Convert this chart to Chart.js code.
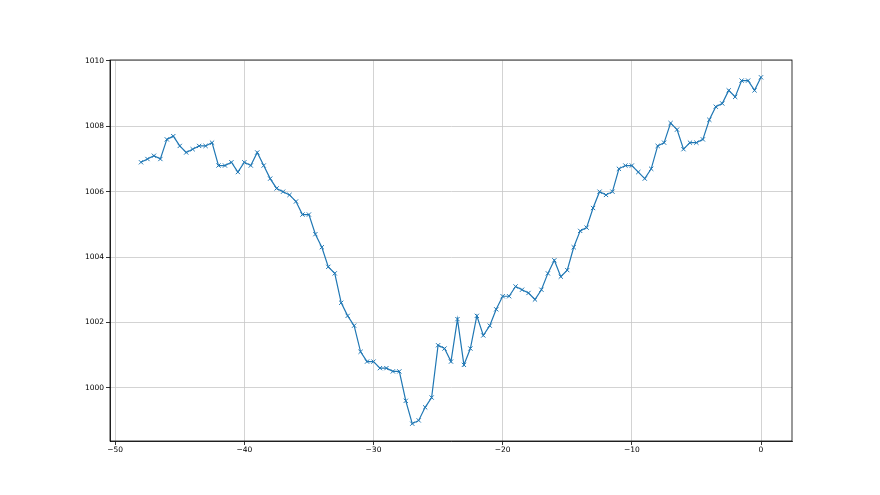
<!DOCTYPE html>
<html>
<head>
<meta charset="utf-8">
<script src="https://cdn.jsdelivr.net/npm/chart.js@4/dist/chart.umd.min.js"></script>
<style>
  html, body { margin: 0; padding: 0; background: #fff; }
  #chart { display: block; }
</style>
</head>
<body>
<canvas id="chart" width="880" height="495"></canvas>
<script>
// hours relative to now
const hours = [
  -48, -47.5, -47, -46.5, -46, -45.5, -45, -44.5, -44, -43.5, -43, -42.5,
  -42, -41.5, -41, -40.5, -40, -39.5, -39, -38.5, -38, -37.5, -37, -36.5,
  -36, -35.5, -35, -34.5, -34, -33.5, -33, -32.5, -32, -31.5, -31, -30.5,
  -30, -29.5, -29, -28.5, -28, -27.5, -27, -26.5, -26, -25.5, -25, -24.5,
  -24, -23.5, -23, -22.5, -22, -21.5, -21, -20.5, -20, -19.5, -19, -18.5,
  -18, -17.5, -17, -16.5, -16, -15.5, -15, -14.5, -14, -13.5, -13, -12.5,
  -12, -11.5, -11, -10.5, -10, -9.5, -9, -8.5, -8, -7.5, -7, -6.5,
  -6, -5.5, -5, -4.5, -4, -3.5, -3, -2.5, -2, -1.5, -1, -0.5, 0
];

// pressure readings
const pressure = [
  1006.9, 1007.0, 1007.1, 1007.0, 1007.6, 1007.7, 1007.4, 1007.2, 1007.3, 1007.4, 1007.4, 1007.5,
  1006.8, 1006.8, 1006.9, 1006.6, 1006.9, 1006.8, 1007.2, 1006.8, 1006.4, 1006.1, 1006.0, 1005.9,
  1005.7, 1005.3, 1005.3, 1004.7, 1004.3, 1003.7, 1003.5, 1002.6, 1002.2, 1001.9, 1001.1, 1000.8,
  1000.8, 1000.6, 1000.6, 1000.5, 1000.5, 999.6, 998.9, 999.0, 999.4, 999.7, 1001.3, 1001.2,
  1000.8, 1002.1, 1000.7, 1001.2, 1002.2, 1001.6, 1001.9, 1002.4, 1002.8, 1002.8, 1003.1, 1003.0,
  1002.9, 1002.7, 1003.0, 1003.5, 1003.9, 1003.4, 1003.6, 1004.3, 1004.8, 1004.9, 1005.5, 1006.0,
  1005.9, 1006.0, 1006.7, 1006.8, 1006.8, 1006.6, 1006.4, 1006.7, 1007.4, 1007.5, 1008.1, 1007.9,
  1007.3, 1007.5, 1007.5, 1007.6, 1008.2, 1008.6, 1008.7, 1009.1, 1008.9, 1009.4, 1009.4, 1009.1, 1009.5
];

const xTicks = [-50, -40, -30, -20, -10, 0];
const yTicks = [1000, 1002, 1004, 1006, 1008, 1010];

function fmt(v) {
  return v < 0 ? '\u2212' + Math.abs(v) : String(v);
}

// top + right spines
const frame = {
  id: 'frame',
  afterDraw(chart) {
    const a = chart.chartArea;
    const ctx = chart.ctx;
    ctx.save();
    ctx.strokeStyle = '#000';
    ctx.lineWidth = 0.8;
    ctx.strokeRect(a.left, a.top, a.right - a.left, a.bottom - a.top);
    ctx.restore();
  }
};

const font = { family: 'DejaVu Sans', size: 7.5 };

new Chart(document.getElementById('chart'), {
  type: 'line',
  data: {
    datasets: [{
      data: hours.map((h, i) => ({ x: h, y: pressure[i] })),
      borderColor: '#1f77b4',
      backgroundColor: '#1f77b4',
      borderWidth: 1.2,
      pointStyle: 'crossRot',
      pointRadius: 3,
      pointBorderWidth: 1,
      pointBorderColor: '#1f77b4',
      tension: 0,
      fill: false
    }]
  },
  options: {
    responsive: false,
    animation: false,
    layout: { padding: { left: 0, top: 60, right: 88, bottom: 0 } },
    plugins: { legend: { display: false }, tooltip: { enabled: false } },
    scales: {
      x: {
        type: 'linear',
        min: -50.4,
        max: 2.4,
        afterFit(scale) { scale.height = 54; },
        afterBuildTicks(scale) { scale.ticks = xTicks.map(v => ({ value: v })); },
        grid: { color: '#c8c8c8', lineWidth: 0.8, tickColor: '#000', tickLength: 4 },
        border: { color: '#000', width: 0.8 },
        ticks: { color: '#000', font: font, padding: 1, maxRotation: 0, callback: fmt }
      },
      y: {
        type: 'linear',
        min: 998.37,
        max: 1010.03,
        afterFit(scale) { scale.width = 110; },
        afterBuildTicks(scale) { scale.ticks = yTicks.map(v => ({ value: v })); },
        grid: { color: '#c8c8c8', lineWidth: 0.8, tickColor: '#000', tickLength: 4 },
        border: { color: '#000', width: 0.8 },
        ticks: { color: '#000', font: font, padding: 2, callback: fmt }
      }
    }
  },
  plugins: [frame]
});
</script>
</body>
</html>
